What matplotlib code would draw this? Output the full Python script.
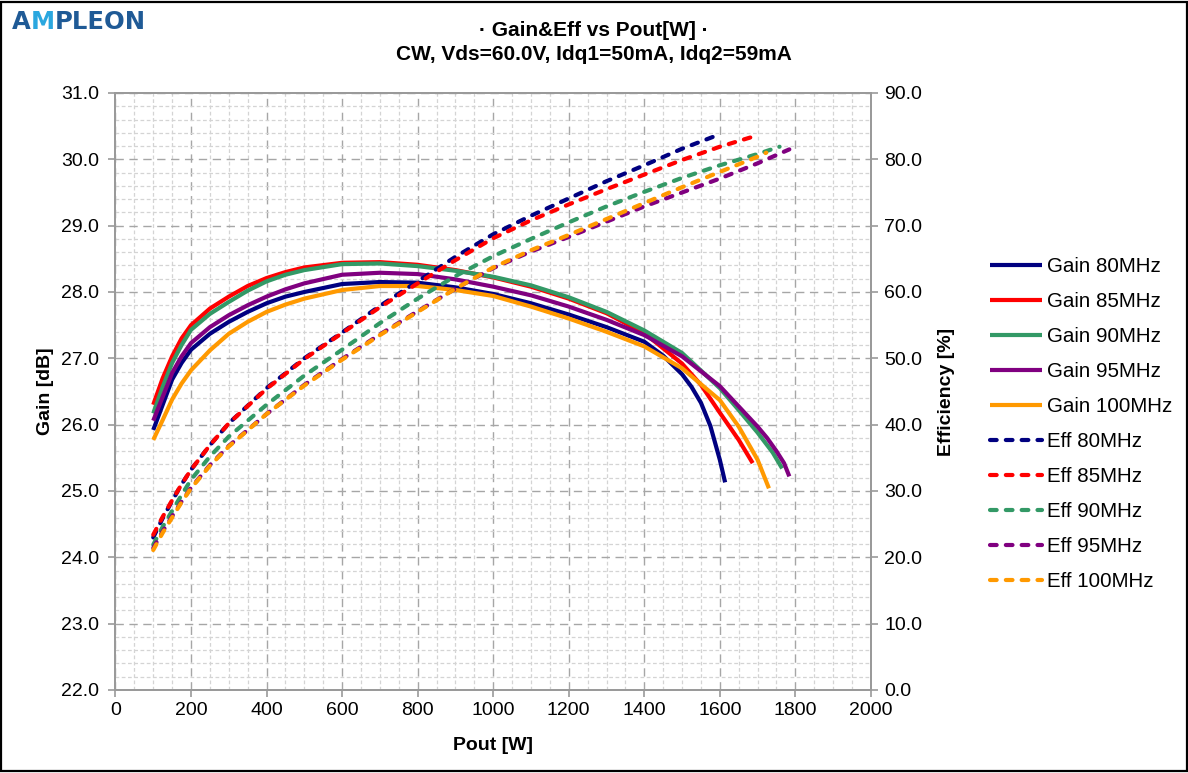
import numpy as np
import matplotlib
matplotlib.use("Agg")
import matplotlib.pyplot as plt
from matplotlib.ticker import MultipleLocator, FormatStrFormatter
from matplotlib.patches import Rectangle

plt.rcParams['font.family'] = ['Liberation Sans', 'DejaVu Sans']

# ---- data ----
freqs = ['80MHz', '85MHz', '90MHz', '95MHz', '100MHz']
colors = ['#000080', '#FF0000', '#339966', '#800080', '#FF9900']

# gain [dB] vs Pout [W]
gain_x_80 = [100, 125, 150, 175, 200, 250, 300, 350, 400, 450, 500, 600, 700, 800, 900, 1000,
             1100, 1200, 1300, 1400, 1450, 1500, 1525, 1550, 1575, 1600, 1614]
gain_80 = [25.92, 26.30, 26.68, 26.93, 27.13, 27.37, 27.55, 27.70, 27.83, 27.93, 28.00, 28.12, 28.15, 28.14, 28.07, 27.97,
           27.83, 27.66, 27.47, 27.25, 27.04, 26.76, 26.57, 26.33, 25.98, 25.47, 25.13]

gain_x_85 = [100, 125, 150, 175, 200, 250, 300, 350, 400, 450, 500, 600, 700, 800, 900, 1000,
             1100, 1200, 1300, 1400, 1500, 1550, 1600, 1650, 1687]
gain_85 = [26.30, 26.70, 27.03, 27.30, 27.50, 27.75, 27.93, 28.09, 28.21, 28.30, 28.37, 28.44, 28.45, 28.41, 28.33, 28.22,
           28.08, 27.90, 27.68, 27.38, 26.92, 26.60, 26.18, 25.77, 25.42]

gain_x_90 = [100, 125, 150, 175, 200, 250, 300, 350, 400, 450, 500, 600, 700, 800, 900, 1000,
             1100, 1200, 1300, 1400, 1500, 1600, 1650, 1700, 1740, 1765]
gain_90 = [26.17, 26.57, 26.93, 27.20, 27.43, 27.67, 27.85, 28.02, 28.16, 28.26, 28.33, 28.42, 28.43, 28.39, 28.32, 28.23,
           28.10, 27.92, 27.70, 27.42, 27.08, 26.55, 26.22, 25.88, 25.58, 25.34]

gain_x_95 = [100, 125, 150, 175, 200, 250, 300, 350, 400, 450, 500, 600, 700, 800, 900, 1000,
             1100, 1200, 1300, 1400, 1500, 1600, 1700, 1725, 1750, 1770, 1784]
gain_95 = [26.06, 26.42, 26.78, 27.03, 27.23, 27.47, 27.65, 27.80, 27.93, 28.04, 28.13, 28.26, 28.29, 28.27, 28.19, 28.08,
           27.95, 27.78, 27.58, 27.35, 27.03, 26.58, 25.97, 25.80, 25.60, 25.42, 25.22]

gain_x_100 = [100, 125, 150, 175, 200, 250, 300, 350, 400, 450, 500, 600, 700, 800, 900, 1000,
              1100, 1200, 1300, 1400, 1500, 1600, 1650, 1700, 1730]
gain_100 = [25.77, 26.07, 26.38, 26.62, 26.82, 27.12, 27.37, 27.55, 27.70, 27.81, 27.90, 28.03, 28.09, 28.09, 28.03, 27.94,
            27.78, 27.60, 27.40, 27.18, 26.85, 26.37, 25.97, 25.47, 25.04]

# efficiency [%] vs Pout [W]
eff_x_80 = [100, 125, 150, 175, 200, 250, 300, 400, 500, 600, 700, 800, 900, 1000, 1100, 1200, 1300, 1400, 1500, 1601]
eff_80 = [23.0, 25.9, 28.5, 31.0, 33.2, 36.9, 40.2, 45.5, 50.0, 53.9, 57.9, 61.6, 65.3, 68.7, 71.5, 74.1, 76.7, 79.1, 81.6, 83.8]

eff_x_85 = [100, 125, 150, 175, 200, 250, 300, 400, 500, 600, 700, 800, 900, 1000, 1100, 1200, 1300, 1400, 1500, 1600, 1687]
eff_85 = [23.4, 26.1, 28.6, 31.0, 33.2, 36.9, 40.2, 45.4, 49.9, 53.8, 57.7, 61.3, 64.8, 68.1, 70.8, 73.2, 75.5, 77.7, 79.9, 81.9, 83.4]

eff_x_90 = [100, 125, 150, 175, 200, 250, 300, 400, 500, 600, 700, 800, 900, 1000, 1100, 1200, 1300, 1400, 1500, 1600, 1700, 1758]
eff_90 = [21.9, 24.6, 27.0, 29.4, 31.7, 35.2, 38.2, 43.0, 47.4, 51.3, 55.3, 59.0, 62.4, 65.4, 68.0, 70.5, 72.9, 75.1, 77.2, 79.1, 80.8, 81.9]

eff_x_95 = [100, 125, 150, 175, 200, 250, 300, 400, 500, 600, 700, 800, 900, 1000, 1100, 1200, 1300, 1400, 1500, 1600, 1700, 1784]
eff_95 = [21.4, 23.9, 26.2, 28.4, 30.5, 33.9, 36.8, 41.6, 46.0, 49.9, 53.6, 57.1, 60.5, 63.6, 66.1, 68.3, 70.6, 72.9, 75.0, 77.1, 79.4, 81.5]

eff_x_100 = [100, 125, 150, 175, 200, 250, 300, 400, 500, 600, 700, 800, 900, 1000, 1100, 1200, 1300, 1400, 1500, 1600, 1700, 1723]
eff_100 = [21.1, 23.7, 26.0, 28.3, 30.4, 33.8, 36.7, 41.6, 45.9, 49.8, 53.5, 57.0, 60.5, 63.7, 66.3, 68.6, 71.0, 73.4, 75.8, 78.1, 80.4, 81.0]

gain_xs = [gain_x_80, gain_x_85, gain_x_90, gain_x_95, gain_x_100]
gains = [gain_80, gain_85, gain_90, gain_95, gain_100]
eff_xs = [eff_x_80, eff_x_85, eff_x_90, eff_x_95, eff_x_100]
effs = [eff_80, eff_85, eff_90, eff_95, eff_100]

GRAY = '#9a9a9a'

fig = plt.figure(figsize=(11.88, 7.73), dpi=100)
ax = fig.add_axes([0.0972, 0.1074, 0.6359, 0.7723])
ax2 = ax.twinx()

handles = []
for x, g, c, f in zip(gain_xs, gains, colors, freqs):
    h, = ax.plot(x, g, color=c, lw=3.0, solid_capstyle='butt', solid_joinstyle='round',
                 label='Gain ' + f)
    handles.append(h)
for x, e, c, f in zip(eff_xs, effs, colors, freqs):
    h, = ax2.plot(x, e, color=c, lw=3.0, linestyle=(0, (1.6, 2.2)),
                  dash_capstyle='round', label='Eff ' + f)
    handles.append(h)

ax.set_xlim(0, 2000)
ax.set_ylim(22, 31)
ax2.set_ylim(0, 90)

ax.xaxis.set_major_locator(MultipleLocator(200))
ax.xaxis.set_minor_locator(MultipleLocator(50))
ax.yaxis.set_major_locator(MultipleLocator(1.0))
ax.yaxis.set_minor_locator(MultipleLocator(0.2))
ax2.yaxis.set_major_locator(MultipleLocator(10))
ax.yaxis.set_major_formatter(FormatStrFormatter('%.1f'))
ax2.yaxis.set_major_formatter(FormatStrFormatter('%.1f'))

ax.grid(which='major', color='#a6a6a6', lw=1.0, linestyle=(0, (6, 4)))
ax.grid(which='minor', color='#d4d4d4', lw=0.9, linestyle=(0, (3, 2)))
ax.set_axisbelow(True)

for a in (ax, ax2):
    for s in a.spines.values():
        s.set_color(GRAY)
        s.set_linewidth(1.4)
    a.tick_params(which='major', direction='out', length=5, width=1.2, color=GRAY,
                  labelsize=14, labelcolor='black')
    a.tick_params(which='minor', length=0)
ax.tick_params(axis='y', pad=7)
ax2.tick_params(axis='y', pad=4.5)

ax.set_xlabel('Pout [W]', fontsize=14, fontweight='bold', labelpad=13)
ax.set_ylabel('Gain [dB]', fontsize=14, fontweight='bold', labelpad=5)
ax2.set_ylabel('Efficiency [%]', fontsize=14, fontweight='bold', labelpad=11)

fig.text(0.5, 0.961, '\u00b7 Gain&Eff vs Pout[W] \u00b7', ha='center', va='center',
         fontsize=15, fontweight='bold')
fig.text(0.5, 0.929, 'CW, Vds=60.0V, Idq1=50mA, Idq2=59mA', ha='center', va='center',
         fontsize=15, fontweight='bold')

fig.legend(handles=handles, loc='center left', bbox_to_anchor=(0.833, 0.4515),
           frameon=False, fontsize=14.8, handlelength=2.55, handletextpad=0.25,
           labelspacing=0.78, borderpad=0, borderaxespad=0)

# logo
t1 = fig.text(0.010, 0.962, 'A', fontsize=17.5, color='#1f5a96', va='baseline',
              family='DejaVu Sans', fontweight='semibold')
t2 = ax.annotate('M', xy=(1.0, 0), xycoords=t1, fontsize=17.5, color='#2aa7df',
                 va='bottom', family='DejaVu Sans', fontweight='semibold', annotation_clip=False)
t3 = ax.annotate('PLEON', xy=(1.0, 0), xycoords=t2, fontsize=17.5, color='#1f5a96',
                 va='bottom', family='DejaVu Sans', fontweight='semibold', annotation_clip=False)

fig.patches.append(Rectangle((0.001, 0.002), 0.998, 0.996, transform=fig.transFigure,
                             fill=False, edgecolor='black', lw=1.6))

fig.savefig('out.png', dpi=100)
